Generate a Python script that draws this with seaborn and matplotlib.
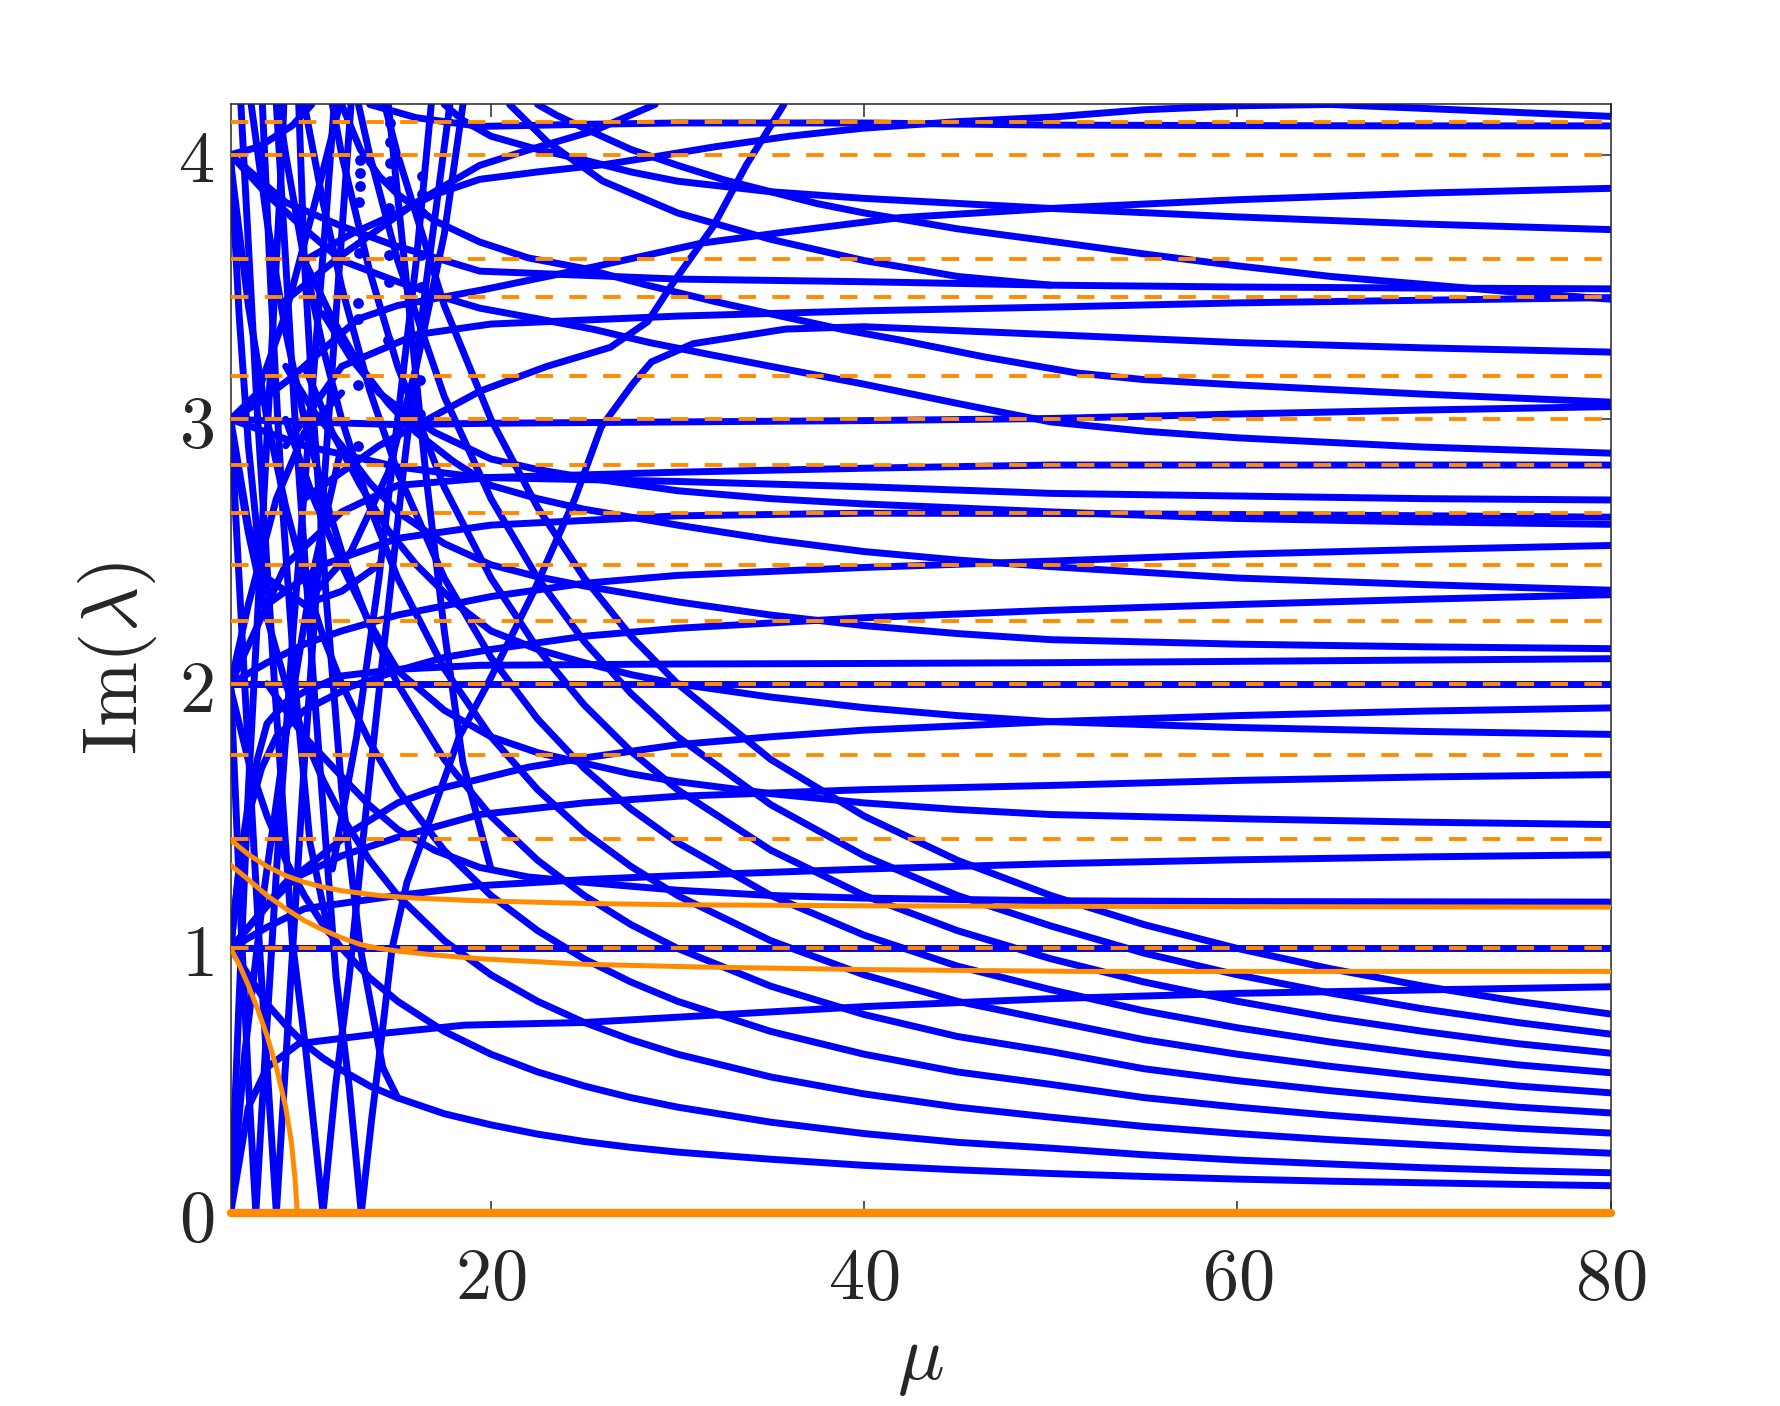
import matplotlib
matplotlib.use("Agg")
import matplotlib.pyplot as plt
from matplotlib.ticker import FuncFormatter
import pandas as pd
import seaborn as sns

# orange dashed reference levels
dashed_levels = [1.0, 1.414, 1.732, 2.0, 2.236, 2.449, 2.646, 2.828, 3.0, 3.162, 3.464, 3.606, 4.0, 4.123]

# orange solid branches
orange_upper = [(6.05, 1.41), (7, 1.355), (8, 1.31), (9, 1.275), (10, 1.25), (11, 1.232), (12, 1.218),
                (14, 1.2), (16, 1.19), (19.4, 1.18), (25, 1.17), (30, 1.165), (40, 1.161), (50, 1.159), (80, 1.156)]
orange_lower = [(6.05, 1.315), (7, 1.26), (8, 1.2), (9, 1.15), (10, 1.105), (11, 1.07), (12, 1.04), (13, 1.015),
                (14, 1.0), (15, 0.99), (17, 0.975), (19.4, 0.961), (25, 0.94), (31, 0.93), (40, 0.92), (51.6, 0.913), (80, 0.913)]
orange_drop = [(6.05, 1.0), (6.5, 0.94), (7.0, 0.86), (7.5, 0.77), (8.0, 0.67), (8.5, 0.55), (9.0, 0.40),
               (9.3, 0.27), (9.5, 0.13), (9.62, 0.0)]
orange_zero = [(6.05, 0.0), (80, 0.0)]

# blue: 1/mu-like fan in the lower half
fan_curves = [
    [(6.05, 1.0), (7, 0.9), (8, 0.79), (9, 0.71), (10, 0.64), (11, 0.585), (12, 0.54), (13.5, 0.48), (15, 0.435), (17.5, 0.375), (20, 0.333), (22.5, 0.298), (25, 0.27), (27.5, 0.248), (30, 0.23), (35, 0.203), (40, 0.18), (45, 0.163), (50, 0.149), (55, 0.138), (60, 0.128), (65, 0.12), (70, 0.114), (75, 0.108), (80, 0.103)],
    [(6.05, 1.98), (7, 1.71), (8, 1.5), (9, 1.333), (10, 1.2), (11, 1.09), (12, 1.0), (13.5, 0.889), (15, 0.8), (17.5, 0.686), (20, 0.6), (22.5, 0.533), (25, 0.48), (27.5, 0.436), (30, 0.4), (35, 0.343), (40, 0.3), (45, 0.267), (50, 0.245), (55, 0.22), (60, 0.2), (65, 0.185), (70, 0.171), (75, 0.16), (80, 0.152)],
    [(6.05, 2.97), (7, 2.57), (8, 2.25), (9, 2.0), (10, 1.8), (11, 1.636), (12, 1.5), (13.5, 1.333), (15, 1.2), (17.5, 1.029), (20, 0.9), (22.5, 0.8), (25, 0.72), (27.5, 0.655), (30, 0.6), (35, 0.514), (40, 0.45), (45, 0.4), (50, 0.362), (55, 0.327), (60, 0.3), (65, 0.277), (70, 0.258), (75, 0.24), (80, 0.226)],
    [(6.05, 3.97), (7, 3.43), (8, 3.0), (9, 2.67), (10, 2.4), (11, 2.18), (12, 2.0), (13.5, 1.78), (15, 1.6), (17.5, 1.37), (20, 1.2), (22.5, 1.067), (25, 0.96), (27.5, 0.873), (30, 0.8), (35, 0.686), (40, 0.6), (45, 0.533), (50, 0.486), (55, 0.436), (60, 0.4), (65, 0.369), (70, 0.343), (75, 0.32), (80, 0.302)],
    [(7.15, 4.19), (8, 3.75), (9, 3.33), (10, 3.0), (11, 2.73), (12, 2.5), (13.5, 2.22), (15, 2.0), (17.5, 1.714), (20, 1.5), (22.5, 1.333), (25, 1.2), (27.5, 1.09), (30, 1.0), (35, 0.857), (40, 0.75), (45, 0.667), (50, 0.61), (55, 0.545), (60, 0.5), (65, 0.462), (70, 0.429), (75, 0.4), (80, 0.378)],
    [(8.6, 4.19), (9, 4.0), (10, 3.6), (11, 3.27), (12, 3.0), (13.5, 2.67), (15, 2.4), (17.5, 2.057), (20, 1.8), (22.5, 1.6), (25, 1.44), (27.5, 1.31), (30, 1.2), (35, 1.029), (40, 0.9), (45, 0.8), (50, 0.727), (55, 0.655), (60, 0.6), (65, 0.554), (70, 0.515), (75, 0.48), (80, 0.454)],
    [(10.0, 4.19), (11, 3.82), (12, 3.5), (13.5, 3.11), (15, 2.8), (17.5, 2.4), (20, 2.1), (22.5, 1.867), (25, 1.68), (27.5, 1.527), (30, 1.4), (35, 1.2), (40, 1.05), (45, 0.933), (50, 0.844), (55, 0.764), (60, 0.7), (65, 0.646), (70, 0.6), (75, 0.56), (80, 0.53)],
    [(11.5, 4.19), (12, 4.0), (13.5, 3.56), (15, 3.2), (17.5, 2.743), (20, 2.4), (22.5, 2.133), (25, 1.92), (27.5, 1.745), (30, 1.6), (35, 1.371), (40, 1.2), (45, 1.067), (50, 0.961), (55, 0.873), (60, 0.8), (65, 0.738), (70, 0.686), (75, 0.64), (80, 0.604)],
    [(12.9, 4.19), (13.5, 4.0), (15, 3.6), (17.5, 3.086), (20, 2.7), (22.5, 2.4), (25, 2.16), (27.5, 1.964), (30, 1.8), (35, 1.543), (40, 1.35), (45, 1.2), (50, 1.085), (55, 0.982), (60, 0.9), (65, 0.831), (70, 0.771), (75, 0.72), (80, 0.676)],
    [(14.3, 4.19), (15, 4.0), (17.5, 3.43), (20, 3.0), (22.5, 2.667), (25, 2.4), (27.5, 2.18), (30, 2.0), (35, 1.714), (40, 1.5), (45, 1.333), (50, 1.2), (55, 1.09), (60, 1.0), (65, 0.923), (70, 0.857), (75, 0.8), (80, 0.752)],
]

# blue: branches settling in the upper half
upper_curves = [
    [(13.5, 4.19), (16, 4.14), (19.4, 4.107), (25, 4.115), (30, 4.12), (40, 4.12), (50, 4.112), (60, 4.11), (70, 4.109), (80, 4.109)],
    [(10, 3.6), (12.5, 3.7), (15, 3.78), (17, 3.85), (19.4, 3.907), (22.5, 3.935), (26.1, 3.963), (29, 3.995), (32, 4.03), (36, 4.07), (39.9, 4.10), (45, 4.125), (50, 4.142), (55, 4.17), (60, 4.185), (65, 4.19), (70, 4.175), (75, 4.16), (80, 4.145)],
    [(9, 3.45), (12, 3.62), (16, 3.82), (19.4, 3.96), (22.1, 4.02), (25.5, 4.09), (28.8, 4.19)],
    [(21, 4.19), (23, 4.05), (26, 3.9), (30, 3.78), (35, 3.68), (40, 3.6), (45, 3.54), (50, 3.507)],
    [(17.5, 4.19), (18.5, 4.13), (20, 4.07), (22.5, 4.02), (25, 3.98), (27.5, 3.935), (30, 3.90), (35, 3.86), (40, 3.835), (50, 3.797), (60, 3.765), (70, 3.738), (80, 3.717)],
    [(6.05, 3.0), (7.5, 3.06), (9.35, 3.16), (11.1, 3.27), (12.9, 3.38), (15, 3.43), (19.6, 3.49), (25.5, 3.576), (31.3, 3.666), (36, 3.71), (41.9, 3.762), (50, 3.797), (60, 3.83), (70, 3.855), (80, 3.873)],
    [(22.5, 4.19), (23.5, 4.15), (25, 4.1), (27.5, 4.02), (30, 3.96), (32.5, 3.905), (35, 3.86), (37.5, 3.815), (40, 3.78), (45, 3.72), (50, 3.673), (55, 3.625), (60, 3.58), (65, 3.54), (70, 3.51), (75, 3.48), (80, 3.454)],
    [(6.05, 4.0), (9, 3.82), (12, 3.73), (14.7, 3.66), (19.4, 3.56), (30, 3.53), (40, 3.52), (50, 3.507), (60, 3.50), (70, 3.496), (80, 3.493)],
    [(9, 2.9), (12, 3.2), (16, 3.32), (20, 3.36), (30, 3.39), (40, 3.41), (50, 3.424), (60, 3.44), (70, 3.45), (80, 3.46)],
    [(13.05, 0.0), (13.6, 0.35), (14.2, 0.7), (14.7, 1.0), (15.5, 1.25), (16.8, 1.5), (18.3, 1.8), (19.9, 2.01), (22.3, 2.35), (24.5, 2.70), (25.9, 2.97), (27.6, 3.134), (28.6, 3.217), (30.85, 3.286), (35.8, 3.341), (40, 3.35), (50, 3.32), (60, 3.29), (70, 3.27), (80, 3.254)],
    [(10, 2.7), (14, 2.9), (19.4, 3.106), (23, 3.2), (26.4, 3.272), (28.4, 3.369), (29.8, 3.52), (31.9, 3.728), (33.7, 3.963), (35.7, 4.19)],
    [(12.0, 4.19), (13, 4.02), (14, 3.92), (15, 3.85), (17, 3.75), (19.4, 3.67), (22, 3.61), (25, 3.57), (28.2, 3.51), (32, 3.445), (35.8, 3.386), (38.8, 3.34), (41.9, 3.30), (46.5, 3.235), (51.4, 3.175), (55, 3.15), (60, 3.13), (70, 3.095), (80, 3.065)],
    [(6.05, 3.0), (10, 2.99), (15, 2.98), (20, 2.985), (30, 2.99), (40, 2.995), (50, 3.003), (60, 3.02), (70, 3.035), (80, 3.048)],
    [(6.05, 4.0), (8, 3.85), (10, 3.72), (12, 3.6), (15, 3.52), (17.5, 3.46), (19.4, 3.42), (22.5, 3.38), (25.5, 3.34), (28.5, 3.29), (31.7, 3.245), (35, 3.2), (39.9, 3.134), (45, 3.06), (50, 2.99), (55, 2.955), (60, 2.93), (70, 2.895), (80, 2.872)],
    [(6.05, 2.0), (9, 2.45), (12, 2.65), (15, 2.75), (20, 2.78), (30, 2.80), (40, 2.815), (50, 2.827), (80, 2.827)],
    [(6.05, 3.0), (10, 2.9), (15, 2.82), (19.4, 2.78), (30, 2.765), (40, 2.745), (50, 2.72), (60, 2.71), (70, 2.70), (80, 2.695)],
    [(8, 2.3), (11, 2.45), (15, 2.55), (20, 2.6), (30, 2.635), (40, 2.645), (50, 2.644), (65, 2.638), (80, 2.63)],
    [(11, 3.4), (12.5, 3.23), (14, 3.1), (15.5, 3.02), (17, 2.95), (18.5, 2.9), (20, 2.85), (22.5, 2.81), (25, 2.78), (30, 2.73), (35, 2.70), (40, 2.68), (50, 2.65), (60, 2.625), (70, 2.612), (80, 2.603)],
    [(6.05, 2.0), (8, 2.08), (10, 2.15), (12, 2.2), (15, 2.26), (20, 2.33), (25, 2.38), (30, 2.41), (40, 2.44), (50, 2.464), (60, 2.49), (70, 2.508), (80, 2.523)],
    [(10, 3.6), (11.5, 3.38), (13, 3.2), (14.5, 3.06), (16, 2.95), (18, 2.84), (20, 2.75), (22.5, 2.7), (25, 2.66), (30, 2.6), (35, 2.545), (40, 2.5), (45, 2.468), (50, 2.443), (60, 2.40), (70, 2.375), (80, 2.354)],
    [(6.05, 1.0), (6.5, 1.3), (7, 1.5), (7.7, 1.68), (8.5, 1.8), (10, 1.9), (12.5, 1.99), (15, 2.05), (17.5, 2.1), (20, 2.13), (25, 2.18), (30, 2.21), (40, 2.25), (50, 2.278), (60, 2.30), (70, 2.32), (80, 2.337)],
    [(9, 3.2), (10.5, 3.03), (12, 2.9), (13.5, 2.76), (15, 2.65), (17.5, 2.53), (20, 2.45), (22.5, 2.405), (25, 2.37), (30, 2.31), (35, 2.26), (40, 2.22), (45, 2.19), (50, 2.167), (60, 2.15), (70, 2.14), (80, 2.133)],
    [(6.05, 1.0), (6.5, 1.3), (7, 1.55), (7.5, 1.72), (8, 1.85), (9, 1.93), (10, 1.97), (12, 2.03), (15, 2.055), (19.4, 2.07), (30, 2.075), (40, 2.077), (50, 2.08), (60, 2.085), (70, 2.09), (80, 2.095)],
    [(6.05, 2.0), (80, 2.0)],
]

# blue: branches settling in the lower half
lower_curves = [
    [(6.05, 1.0), (8, 1.16), (10, 1.3), (12.5, 1.44), (15, 1.55), (17, 1.6), (19.4, 1.64), (22, 1.685), (25, 1.72), (30, 1.77), (35, 1.80), (40, 1.825), (50, 1.857), (60, 1.88), (70, 1.897), (80, 1.909)],
    [(10, 3.2), (11.5, 2.95), (13, 2.75), (14.5, 2.58), (16, 2.45), (18, 2.31), (20, 2.2), (22.5, 2.13), (25, 2.08), (27.5, 2.035), (30, 2.0), (35, 1.95), (40, 1.91), (45, 1.88), (50, 1.857), (60, 1.835), (70, 1.82), (80, 1.809)],
    [(6.05, 1.0), (9, 1.25), (12, 1.35), (15, 1.42), (19.4, 1.506), (25, 1.55), (30, 1.575), (40, 1.60), (50, 1.616), (60, 1.635), (70, 1.648), (80, 1.657)],
    [(9, 3.0), (10.5, 2.7), (12, 2.45), (13.5, 2.23), (15, 2.05), (17.5, 1.9), (20, 1.80), (22.5, 1.74), (25, 1.70), (27.5, 1.66), (30, 1.63), (35, 1.585), (40, 1.55), (45, 1.525), (50, 1.506), (60, 1.49), (70, 1.477), (80, 1.468)],
    [(6.05, 1.0), (8, 1.08), (10, 1.15), (15, 1.2), (19.4, 1.237), (25, 1.26), (30, 1.275), (40, 1.30), (50, 1.32), (60, 1.335), (70, 1.346), (80, 1.354)],
    [(8, 2.0), (10, 1.8), (12, 1.65), (13.5, 1.54), (15, 1.45), (17, 1.37), (19.4, 1.306), (22, 1.27), (25, 1.25), (30, 1.22), (35, 1.2), (40, 1.19), (50, 1.18), (60, 1.177), (80, 1.175)],
    [(6.05, 1.0), (80, 1.0)],
    [(6.05, 0.0), (7, 0.4), (8, 0.55), (9.7, 0.64), (12, 0.66), (14.35, 0.68), (18.6, 0.71), (25, 0.72), (30, 0.74), (40, 0.78), (50, 0.81), (60, 0.83), (70, 0.843), (80, 0.855)],
    [(6.05, 0.0), (80, 0.0)],
]

# blue: crossings at small mu
tangle_curves = [
    [(6.05, 2.0), (6.6, 1.1), (7.0, 0.5), (7.4, 0.0), (7.9, 0.6), (8.6, 1.4), (9.4, 2.2), (10.3, 3.0), (11.2, 3.8), (11.6, 4.19)],
    [(6.05, 3.0), (6.8, 2.0), (7.6, 1.0), (8.5, 0.0), (9.2, 0.8), (10.0, 1.7), (10.9, 2.6), (11.8, 3.5), (12.5, 4.19)],
    [(6.6, 4.19), (7.5, 3.0), (8.4, 2.0), (9.35, 1.03), (10.07, 0.62), (11.0, 0.0), (11.67, 0.48), (12.4, 0.89), (13.2, 1.45), (14.2, 2.1), (15.3, 2.8), (16.5, 3.5), (17.8, 4.19)],
    [(8.5, 4.19), (9.5, 3.0), (10.5, 2.0), (11.7, 0.89), (12.4, 0.48), (13.05, 0.0)],
    [(6.05, 0.0), (6.5, 0.8), (7.0, 1.6), (7.6, 2.4), (8.2, 3.2), (8.8, 4.0), (8.9, 4.19)],
    [(6.05, 0.0), (6.8, 0.6), (7.8, 1.2), (9.0, 1.8), (10.4, 2.4), (12.0, 2.9)],
    [(6.05, 4.0), (7.57, 4.03), (9.35, 4.11), (10.4, 4.19)],
    [(7.75, 4.19), (8.2, 3.5), (8.8, 2.7), (9.5, 2.0), (10.3, 1.4), (11.3, 1.06)],
    [(9.7, 4.19), (10.0, 3.6), (10.5, 3.0), (11.2, 2.3), (12.0, 1.6), (13.0, 1.0), (14.2, 0.55), (15.0, 0.435)],
    [(11.9, 4.19), (10.5, 3.8), (9.0, 3.4), (7.5, 3.1), (6.05, 3.0)],
    [(6.05, 3.0), (7, 2.6), (8, 2.4), (10, 2.3), (12, 2.35), (14, 2.45)],
    [(6.05, 2.0), (7, 2.3), (8.5, 2.7), (10, 2.95), (12, 3.1)],
    [(6.05, 4.0), (6.5, 3.4), (7, 2.9), (7.5, 2.55), (8, 2.35)],
    [(14.5, 4.19), (15.5, 3.5), (16.5, 2.8), (17.5, 2.2), (18.5, 1.7), (20, 1.3)],
    [(16.8, 4.19), (16.0, 3.6), (15.0, 3.0), (14.0, 2.4), (12.8, 1.8), (11.5, 1.3)],
    [(18.5, 4.19), (17.5, 3.7), (16.0, 3.2), (14.5, 2.8), (12.5, 2.5), (10, 2.3)],
]

# blue: sparsely sampled steep branches (drawn as dots)
dot_x = [13.0, 13.0, 13.0, 12.95, 12.95, 12.95, 12.9, 12.9, 12.9, 12.85, 12.85,
         14.6, 14.6, 14.6, 14.6, 14.55, 14.55, 14.55, 14.5,
         16.3, 16.3, 16.3, 16.25, 16.25, 16.2, 16.2]
dot_y = [3.98, 3.93, 3.88, 3.82, 3.71, 3.63, 3.44, 3.38, 3.13, 2.90, 2.78,
         4.12, 4.05, 3.97, 3.90, 3.80, 3.62, 3.52, 3.30,
         3.92, 3.85, 3.78, 3.62, 3.50, 3.15, 3.02]


def to_frame(curves, tag):
    rows = []
    for i, pts in enumerate(curves):
        for j, (x, y) in enumerate(pts):
            rows.append({"curve": f"{tag}{i}", "order": j, "mu": x, "im": y})
    return pd.DataFrame(rows)


sns.set_style("ticks")
plt.rcParams["mathtext.fontset"] = "cm"
plt.rcParams["font.family"] = ["DejaVu Serif"]

BLUE = "#0000FF"
ORANGE = "#FF8C00"

fig = plt.figure(figsize=(17.81, 14.06), dpi=100)
ax = fig.add_axes([0.1295, 0.1373, 0.7748, 0.7884])

blue_df = pd.concat([to_frame(fan_curves, "f"), to_frame(upper_curves, "u"),
                     to_frame(lower_curves, "l"), to_frame(tangle_curves, "t")])
sns.lineplot(data=blue_df, x="mu", y="im", units="curve", estimator=None, sort=False,
             color=BLUE, lw=5, ax=ax, legend=False, zorder=2,
             solid_capstyle="round", solid_joinstyle="round")
sns.scatterplot(x=dot_x, y=dot_y, color=BLUE, s=60, linewidth=0, ax=ax, zorder=2)

orange_df = to_frame([orange_upper, orange_lower, orange_drop], "o")
sns.lineplot(data=orange_df, x="mu", y="im", units="curve", estimator=None, sort=False,
             color=ORANGE, lw=3.6, ax=ax, legend=False, zorder=3)
zx, zy = zip(*orange_zero)
ax.plot(zx, zy, color=ORANGE, lw=6, zorder=3, clip_on=False)

for lev in dashed_levels:
    ax.axhline(lev, color=ORANGE, lw=2.8, dashes=(4.5, 4.2), zorder=4)

ax.set_xlim(6.05, 80)
ax.set_ylim(0, 4.19)
ax.set_xticks([20, 40, 60, 80])
ax.set_yticks([0, 1, 2, 3, 4])
fmt = FuncFormatter(lambda v, p: f"${v:.0f}$")
ax.xaxis.set_major_formatter(fmt)
ax.yaxis.set_major_formatter(fmt)
ax.tick_params(direction="in", length=9, width=1.1, top=True, right=True,
               labelsize=52, colors="#262626")
ax.tick_params(axis="x", pad=22)
ax.tick_params(axis="y", pad=12)
for s in ax.spines.values():
    s.set_linewidth(1.1)
    s.set_color("#262626")
ax.set_xlabel(r"$\mu$", fontsize=56, color="#262626", labelpad=6)
ax.set_ylabel(r"$\mathrm{Im}(\lambda)$", fontsize=56, color="#262626", labelpad=14)

fig.savefig("out.png", dpi=100, facecolor="white")
